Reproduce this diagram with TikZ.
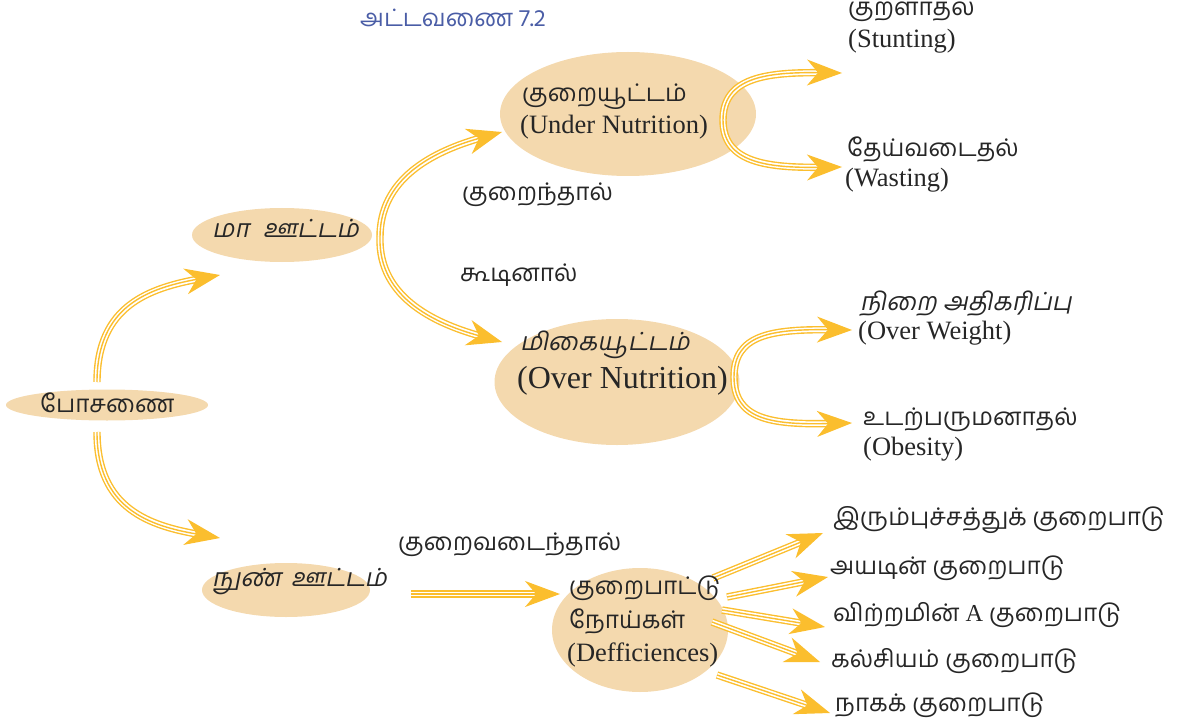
\documentclass[tikz,border=0pt]{standalone}
\usepackage{fontspec}
\setmainfont{Liberation Serif}
\newfontfamily\tam[Script=Tamil]{Hind Madurai}
\newfontfamily\tamsl[Script=Tamil,FakeSlant=0.2]{Hind Madurai}
\usetikzlibrary{arrows.meta,shapes.geometric}
\definecolor{ay}{HTML}{FBBE2E}
\definecolor{pe}{HTML}{F4D9AE}
\definecolor{tb}{HTML}{4A5DA6}
\begin{document}
\begin{tikzpicture}[x=1pt,y=-1pt,
  blob/.style={ellipse, fill=pe, draw=none, inner sep=0pt},
  tt/.style={font=\tam\fontsize{24.3}{28}\selectfont, anchor=west, inner sep=0pt, text=black!85},
  ts/.style={font=\tamsl\fontsize{25}{29}\selectfont, anchor=west, inner sep=0pt, text=black!85},
  en/.style={font=\fontsize{26.5}{30}\selectfont, anchor=west, inner sep=0pt, text=black!85},
  tri/.style={
    preaction={draw=ay, line width=7.4pt, shorten >=20pt},
    draw=white, line width=4.6pt, shorten >=20pt,
    postaction={draw=ay, line width=1.4pt, shorten >=0pt,
      -{Stealth[length=35pt,width=26pt,inset=11pt]}}}]
\useasboundingbox (0,0) rectangle (1188,722);

% ellipses
\node[blob, minimum width=202pt, minimum height=31pt] (ePos) at (107,405) {};
\node[blob, minimum width=180pt, minimum height=54pt] (eMa) at (282,235) {};
\node[blob, minimum width=256pt, minimum height=124pt] (eUn) at (628,114) {};
\node[blob, minimum width=245pt, minimum height=126pt] (eOv) at (617,382) {};
\node[blob, minimum width=168pt, minimum height=54pt] (eNu) at (286,590) {};
\node[blob, minimum width=176pt, minimum height=124pt] (eDf) at (640,630) {};

% arrow end points
\coordinate (s1) at (97,382);  \coordinate (t1) at (220,275);
\coordinate (s2) at (97,432);  \coordinate (t2) at (220,538);
\coordinate (s3) at (380,237); \coordinate (t3) at (502,132);
\coordinate (t4) at (502,342);
\coordinate (s5) at (723,120); \coordinate (t5) at (842,73);
\coordinate (t6) at (842,167);
\coordinate (s7) at (734,377); \coordinate (t7) at (852,330);
\coordinate (t8) at (852,423);
\coordinate (s9) at (411,594); \coordinate (t9) at (560,594);
\coordinate (sd1) at (713,578); \coordinate (td1) at (823,533);
\coordinate (sd2) at (727,597); \coordinate (td2) at (828,577);
\coordinate (sd3) at (722,610); \coordinate (td3) at (825,627);
\coordinate (sd4) at (712,622); \coordinate (td4) at (820,662);
\coordinate (sd5) at (717,675); \coordinate (td5) at (830,713);

% arrows
\path[tri] (s1) .. controls (97,305) and (150,288) .. (t1);
\path[tri] (s2) .. controls (97,509) and (150,526) .. (t2);
\path[tri] (s3) .. controls (380,180) and (430,152) .. (t3);
\path[tri] (s3) .. controls (378,300) and (440,325) .. (t4);
\path[tri] (s5) .. controls (723,78) and (765,72) .. (t5);
\path[tri] (s5) .. controls (723,162) and (765,168) .. (t6);
\path[tri] (s7) .. controls (734,335) and (770,329) .. (t7);
\path[tri] (s7) .. controls (734,419) and (770,425) .. (t8);
\path[tri] (s9) -- (t9);
\path[tri] (sd1) -- (td1);
\path[tri] (sd2) -- (td2);
\path[tri] (sd3) -- (td3);
\path[tri] (sd4) -- (td4);
\path[tri] (sd5) -- (td5);

% texts
\node[anchor=west, inner sep=0pt, text=tb, font=\tam\fontsize{24}{28}\selectfont] (title) at (360,18) {அட்டவணை 7.2};
\node[tt] (tPos) at (40,403) {போசணை};
\node[ts] (tMa) at (212,228) {மா\hspace{14pt}ஊட்டம்};
\node[tt] (tUnT) at (522,97) {குறையூட்டம்};
\node[en] (tUnE) at (520,127) {(Under Nutrition)};
\node[ts] (tOvT) at (520,345) {மிகையூட்டம்};
\node[en, font=\fontsize{32}{36}\selectfont] (tOvE) at (517,381) {(Over Nutrition)};
\node[tt] (tKur) at (462,195) {குறைந்தால்};
\node[tt] (tKoo) at (460,275) {கூடினால்};
\node[ts] (tNun) at (212,582) {நுண்\hspace{10pt}ஊட்டம்};
\node[tt] (tKv) at (398,545) {குறைவடைந்தால்};
\node[tt] (tD1) at (569,588) {குறைபாட்டு};
\node[tt] (tD2) at (569,621) {நோய்கள்};
\node[en] (tD3) at (567,655) {(Defficiences)};

\node[tt] (tStT) at (848,10) {குறளாதல்};
\node[en] (tStE) at (848,41) {(Stunting)};
\node[tt] (tWaT) at (847,149) {தேய்வடைதல்};
\node[en] (tWaE) at (845,180) {(Wasting)};
\node[ts] (tOwT) at (860,304) {நிறை அதிகரிப்பு};
\node[en] (tOwE) at (858,333) {(Over Weight)};
\node[tt] (tObT) at (863,420) {உடற்பருமனாதல்};
\node[en] (tObE) at (863,449) {(Obesity)};

\node[tt] (tFe) at (833,520) {இரும்புச்சத்துக் குறைபாடு};
\node[tt] (tIo) at (830,568) {அயடின் குறைபாடு};
\node[tt] (tVa) at (833,615) {விற்றமின் {\rmfamily A} குறைபாடு};
\node[tt] (tCa) at (831,661) {கல்சியம் குறைபாடு};
\node[tt] (tZn) at (835,705) {நாகக் குறைபாடு};
\end{tikzpicture}
\end{document}
